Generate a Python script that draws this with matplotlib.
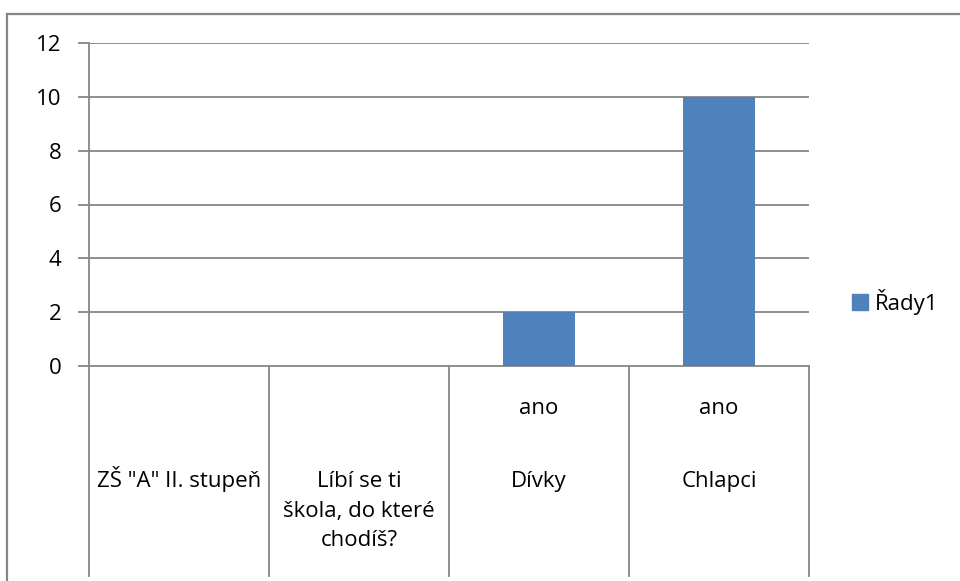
import numpy as np
import matplotlib
matplotlib.use("Agg")
import matplotlib.pyplot as plt
from matplotlib.lines import Line2D
from matplotlib.patches import Patch
import matplotlib.transforms as mtransforms

plt.rcParams['font.family'] = ['Open Sans', 'DejaVu Sans']

# Data
level1 = ["", "", "ano", "ano"]
level2 = ['ZŠ "A" II. stupeň', "Líbí se ti\nškola, do které\nchodíš?", "Dívky", "Chlapci"]
values = [np.nan, np.nan, 2, 10]
series_name = "Řady1"
yticks = [0, 2, 4, 6, 8, 10, 12]

FS = 16
W, H = 960, 581
fig = plt.figure(figsize=(W / 100, H / 100), dpi=100)
fig.patch.set_facecolor("white")

left, right, top, bottom = 89, 809, 43, 366
ax = fig.add_axes([left / W, (H - bottom) / H, (right - left) / W, (bottom - top) / H])

grid_c = "#868686"
bar_c = "#4f81bd"
x = np.arange(len(values))
ax.bar(x, values, width=0.4, color=bar_c, zorder=3, label=series_name)

ax.set_xlim(-0.5, len(values) - 0.5)
ax.set_ylim(0, 12)
ax.set_yticks(yticks)
ax.set_yticklabels([str(t) for t in yticks], fontsize=FS)
ax.set_xticks([])
for yv in yticks[1:]:
    ax.axhline(yv, color=grid_c, lw=1.3, zorder=1)
for s in ["top", "right"]:
    ax.spines[s].set_visible(False)
ax.spines["left"].set_color(grid_c)
ax.spines["left"].set_linewidth(1.3)
ax.spines["bottom"].set_color(grid_c)
ax.spines["bottom"].set_linewidth(1.3)
ax.tick_params(axis="y", length=8, width=1.3, color=grid_c, pad=12, labelcolor="black")

# category separator lines below axis
trans = mtransforms.blended_transform_factory(ax.transData, ax.transAxes)
ph = bottom - top


def ypix(py):
    return -(py - bottom) / ph


for b in np.arange(len(values) + 1) - 0.5:
    ax.plot([b, b], [0, ypix(576)], transform=trans, color=grid_c, lw=1.3, clip_on=False)

# category labels (baselines in pixels)
base1 = 414
base2 = 487
step = 29.5
for i in range(len(values)):
    if level1[i]:
        ax.text(i, ypix(base1), level1[i], transform=trans, ha="center", va="baseline", fontsize=FS)
    for k, line in enumerate(level2[i].split("\n")):
        ax.text(i, ypix(base2 + k * step), line, transform=trans, ha="center", va="baseline", fontsize=FS)

# legend
handle = Patch(facecolor=bar_c, edgecolor=bar_c)
fig.legend([handle], [series_name], loc="center left", bbox_to_anchor=(852 / W, 1 - 302 / H),
           frameon=False, fontsize=FS, handlelength=0.72, handleheight=0.72, handletextpad=0.3,
           borderpad=0, borderaxespad=0)

# outer chart border (top and left visible)
bc = "#868686"
fig.add_artist(Line2D([7 / W, 1.0], [1 - 14 / H, 1 - 14 / H], transform=fig.transFigure, color=bc, lw=1.6))
fig.add_artist(Line2D([7 / W, 7 / W], [0, 1 - 14 / H], transform=fig.transFigure, color=bc, lw=1.6))

fig.savefig("out.png", dpi=100, facecolor="white")
